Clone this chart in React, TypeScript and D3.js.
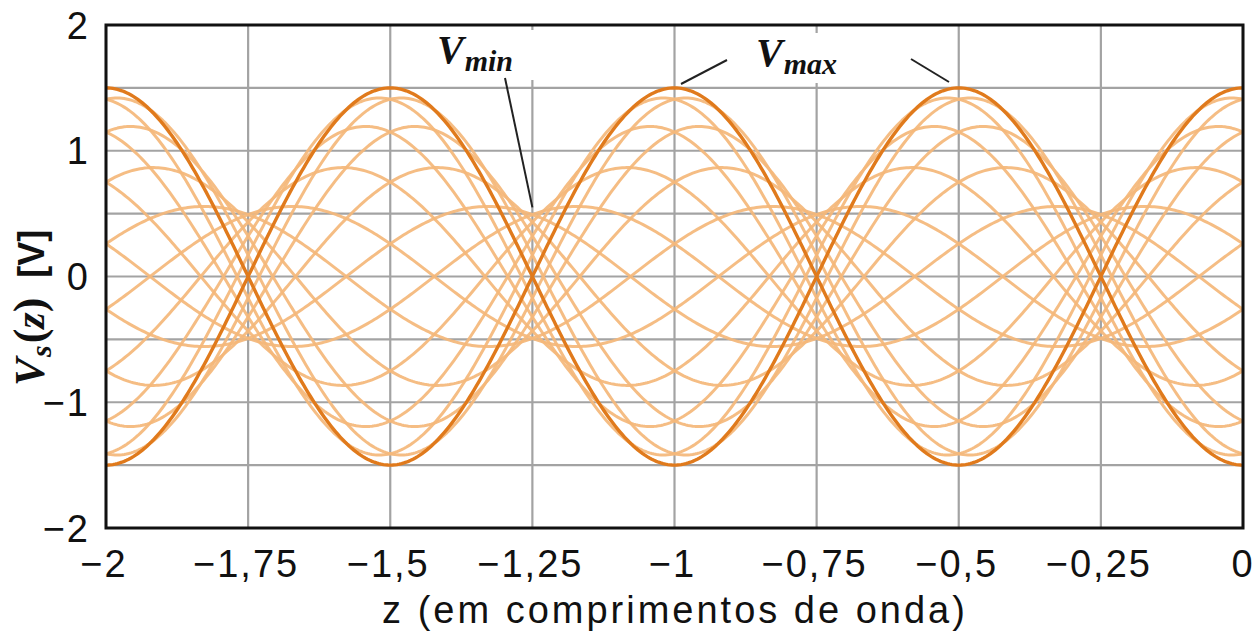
import React from "react";
import * as d3 from "d3";

// Standing wave on a lossless line: V(z,t) = V0 [cos(wt - bz) + G cos(wt + bz)]
const incidentAmplitude = 1; // V
const reflectionCoefficient = 0.5;
// instants of time (wt, degrees) drawn as separate curves
const phasesDeg = [0, 20, 40, 60, 80, 100, 120, 140, 160, 180, 200, 220, 240, 260, 280, 300, 320, 340];
const highlightedPhasesDeg = [0, 180];

const zTicks = [-2, -1.75, -1.5, -1.25, -1, -0.75, -0.5, -0.25, 0];
const zTickLabels = ["−2", "−1,75", "−1,5", "−1,25", "−1", "−0,75", "−0,5", "−0,25", "0"];
const vTicks = [2, 1, 0, -1, -2];
const vTickLabels = ["2", "1", "0", "−1", "−2"];
const vGrid = [2, 1.5, 1, 0.5, 0, -0.5, -1, -1.5, -2];

const W = 1257;
const H = 638;
const left = 106;
const right = 1243;
const top = 25;
const bottom = 528;

const x = d3.scaleLinear().domain([-2, 0]).range([left, right]);
const y = d3.scaleLinear().domain([-2, 2]).range([bottom, top]);

const zSamples = d3.range(-2, 0.00001, 0.004);

function voltage(z: number, phaseDeg: number) {
  const wt = (phaseDeg * Math.PI) / 180;
  const bz = 2 * Math.PI * z;
  return incidentAmplitude * (Math.cos(wt - bz) + reflectionCoefficient * Math.cos(wt + bz));
}

function pathFor(phase: number) {
  return d3
    .line<number>()
    .x((z) => x(z))
    .y((z) => y(voltage(z, phase)))(zSamples) as string;
}

const sans = "'Liberation Sans', Arial, sans-serif";
const serif = "'Liberation Serif', 'Times New Roman', serif";

export default function App() {
  const light = phasesDeg.filter((p) => !highlightedPhasesDeg.includes(p));
  return (
    <svg
      width={W}
      height={H}
      viewBox={`0 0 ${W} ${H}`}
      style={{ position: "absolute", left: 0, top: 0, background: "#fff" }}
    >
      <defs>
        <clipPath id="plotArea">
          <rect x={left} y={top} width={right - left} height={bottom - top} />
        </clipPath>
      </defs>

      {/* grid */}
      <g stroke="#a3a3a3" strokeWidth={2.2}>
        {zTicks.map((t) => (
          <line key={"gx" + t} x1={x(t)} x2={x(t)} y1={top} y2={bottom} />
        ))}
        {vGrid.map((t) => (
          <line key={"gy" + t} x1={left} x2={right} y1={y(t)} y2={y(t)} />
        ))}
      </g>

      {/* instantaneous voltage curves */}
      <g clipPath="url(#plotArea)" fill="none" strokeLinejoin="round">
        {light.map((p) => (
          <path key={"l" + p} d={pathFor(p)} stroke="#f4b77a" strokeWidth={3} strokeOpacity={0.92} />
        ))}
        {highlightedPhasesDeg.map((p) => (
          <path key={"d" + p} d={pathFor(p)} stroke="#e07a1c" strokeWidth={3.4} />
        ))}
      </g>

      {/* frame */}
      <rect x={left} y={top} width={right - left} height={bottom - top} fill="none" stroke="#111" strokeWidth={3} />

      {/* tick labels */}
      <g fontFamily={sans} fontSize={38} fill="#111" letterSpacing={2}>
        {vTicks.map((t, i) => (
          <text key={"vy" + t} x={90} y={y(t)} dy="0.36em" textAnchor="end">
            {vTickLabels[i]}
          </text>
        ))}
        {zTicks.map((t, i) => (
          <text key={"tx" + t} x={x(t) + (i === zTicks.length - 1 ? 0 : -2)} y={577} textAnchor="middle">
            {zTickLabels[i]}
          </text>
        ))}
        <text x={675} y={623} textAnchor="middle" letterSpacing={3}>
          z (em comprimentos de onda)
        </text>
      </g>

      {/* y-axis title */}
      <g transform="translate(44,386) rotate(-90)">
        <text fill="#111" fontWeight="bold">
          <tspan fontFamily={serif} fontStyle="italic" fontSize={42}>V</tspan>
          <tspan fontFamily={serif} fontStyle="italic" fontSize={30} dy={7} dx={1}>s</tspan>
          <tspan fontFamily={serif} fontSize={44} dy={-7} dx={2}>(</tspan>
          <tspan fontFamily={serif} fontStyle="italic" fontSize={42}>z</tspan>
          <tspan fontFamily={serif} fontSize={44}>)</tspan>
          <tspan fontFamily={sans} fontSize={36} dx={20}>[V]</tspan>
        </text>
      </g>

      {/* annotations */}
      <rect x={420} y={30} width={117} height={50} fill="#fff" />
      <rect x={740} y={33} width={162} height={50} fill="#fff" />
      <g stroke="#222" strokeWidth={2}>
        <line x1={505} y1={78} x2={x(-1.25)} y2={y(0.55)} />
        <line x1={681} y1={84} x2={727} y2={60} />
        <line x1={911} y1={59} x2={949} y2={82} />
      </g>
      <text x={437} y={63} fill="#111" fontFamily={serif} fontStyle="italic" fontWeight="bold">
        <tspan fontSize={40}>V</tspan>
        <tspan fontSize={30} dy={8} dx={1}>min</tspan>
      </text>
      <text x={756} y={66} fill="#111" fontFamily={serif} fontStyle="italic" fontWeight="bold">
        <tspan fontSize={40}>V</tspan>
        <tspan fontSize={30} dy={8} dx={1}>max</tspan>
      </text>
    </svg>
  );
}
